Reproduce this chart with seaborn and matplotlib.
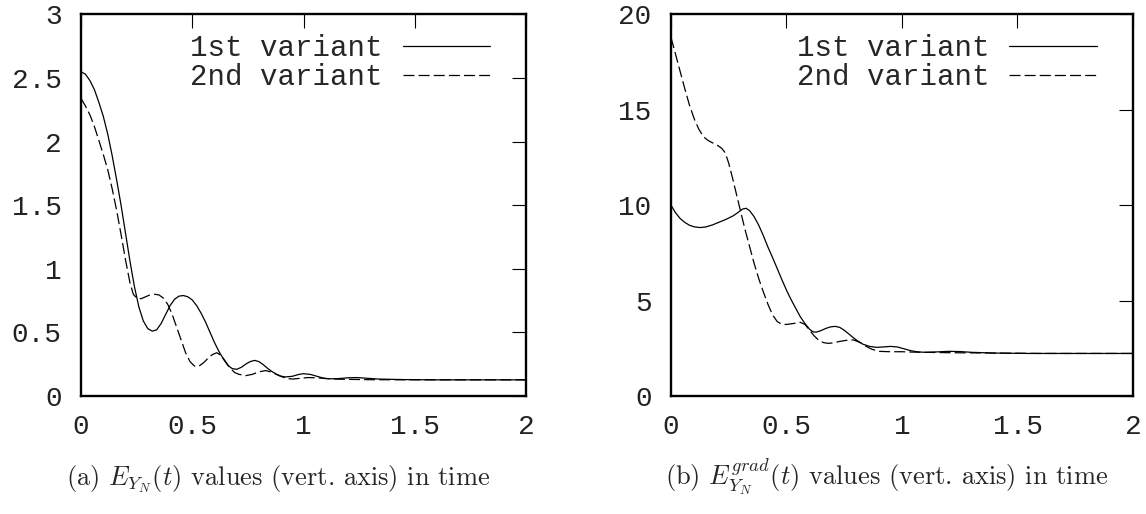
import matplotlib
matplotlib.use("Agg")
import matplotlib.pyplot as plt
import seaborn as sns
import pandas as pd

# ---------------- data ----------------
series_names = ["1st variant", "2nd variant"]

t_a1 = [0, 0.02, 0.04, 0.06, 0.08, 0.10, 0.12, 0.14, 0.16, 0.18, 0.20, 0.22, 0.24,
        0.26, 0.28, 0.30, 0.32, 0.34, 0.36, 0.38, 0.40, 0.42, 0.44, 0.46, 0.48,
        0.50, 0.52, 0.54, 0.56, 0.58, 0.60, 0.62, 0.64, 0.66, 0.68, 0.70, 0.72,
        0.74, 0.76, 0.78, 0.80, 0.82, 0.84, 0.86, 0.88, 0.90, 0.92, 0.95, 0.98,
        1.00, 1.03, 1.06, 1.09, 1.12, 1.16, 1.20, 1.24, 1.28, 1.34, 1.45, 1.60, 2.00]
e_a1 = [2.55, 2.53, 2.48, 2.41, 2.31, 2.20, 2.06, 1.89, 1.70, 1.50, 1.28, 1.06, 0.86,
        0.70, 0.59, 0.53, 0.51, 0.52, 0.57, 0.64, 0.71, 0.76, 0.785, 0.79, 0.78,
        0.755, 0.71, 0.65, 0.58, 0.50, 0.42, 0.35, 0.29, 0.24, 0.215, 0.21, 0.225,
        0.25, 0.27, 0.28, 0.27, 0.245, 0.215, 0.19, 0.17, 0.155, 0.15, 0.155, 0.17,
        0.175, 0.17, 0.155, 0.14, 0.135, 0.137, 0.143, 0.145, 0.14, 0.133, 0.129, 0.127, 0.127]

t_a2 = [0, 0.02, 0.04, 0.06, 0.08, 0.10, 0.12, 0.14, 0.16, 0.18, 0.20, 0.22, 0.235,
        0.25, 0.27, 0.29, 0.31, 0.33, 0.35, 0.37, 0.39, 0.41, 0.43, 0.45, 0.47,
        0.49, 0.51, 0.53, 0.55, 0.57, 0.59, 0.61, 0.63, 0.65, 0.67, 0.69, 0.71,
        0.74, 0.77, 0.80, 0.83, 0.86, 0.89, 0.92, 0.95, 0.98, 1.02, 1.06, 1.10,
        1.16, 1.30, 1.60, 2.00]
e_a2 = [2.34, 2.28, 2.21, 2.12, 2.01, 1.90, 1.78, 1.63, 1.46, 1.27, 1.07, 0.89, 0.80,
        0.77, 0.765, 0.78, 0.795, 0.80, 0.795, 0.77, 0.72, 0.64, 0.54, 0.44, 0.34,
        0.27, 0.235, 0.235, 0.26, 0.295, 0.325, 0.34, 0.32, 0.27, 0.22, 0.185, 0.17,
        0.16, 0.17, 0.19, 0.20, 0.185, 0.16, 0.14, 0.133, 0.138, 0.145, 0.143, 0.137,
        0.132, 0.128, 0.127, 0.127]

t_b1 = [0, 0.02, 0.04, 0.06, 0.08, 0.10, 0.126, 0.15, 0.18, 0.21, 0.24, 0.27, 0.29,
        0.31, 0.325, 0.34, 0.36, 0.38, 0.40, 0.42, 0.44, 0.46, 0.48, 0.50, 0.52,
        0.54, 0.56, 0.58, 0.60, 0.615, 0.63, 0.65, 0.67, 0.69, 0.71, 0.73, 0.75,
        0.77, 0.79, 0.81, 0.83, 0.86, 0.89, 0.92, 0.95, 0.98, 1.01, 1.04, 1.07,
        1.10, 1.15, 1.20, 1.25, 1.30, 1.40, 1.55, 1.80, 2.00]
e_b1 = [10.0, 9.6, 9.3, 9.1, 8.95, 8.87, 8.83, 8.86, 8.97, 9.12, 9.27, 9.45, 9.62,
        9.80, 9.84, 9.72, 9.40, 8.95, 8.40, 7.80, 7.25, 6.68, 6.10, 5.55, 5.05,
        4.60, 4.15, 3.80, 3.50, 3.36, 3.35, 3.43, 3.54, 3.62, 3.65, 3.60, 3.45,
        3.25, 3.05, 2.87, 2.72, 2.60, 2.55, 2.57, 2.60, 2.57, 2.47, 2.37, 2.31,
        2.29, 2.31, 2.34, 2.33, 2.29, 2.25, 2.23, 2.23, 2.23]

t_b2 = [0, 0.02, 0.04, 0.06, 0.08, 0.10, 0.12, 0.14, 0.16, 0.18, 0.20, 0.22, 0.235,
        0.25, 0.265, 0.28, 0.30, 0.32, 0.34, 0.36, 0.38, 0.40, 0.42, 0.44, 0.46,
        0.48, 0.50, 0.53, 0.56, 0.58, 0.60, 0.62, 0.64, 0.66, 0.68, 0.70, 0.73,
        0.76, 0.79, 0.82, 0.845, 0.87, 0.90, 0.95, 1.00, 1.05, 1.20, 1.40, 1.60, 2.00]
e_b2 = [18.8, 17.9, 17.0, 16.1, 15.25, 14.55, 14.0, 13.6, 13.4, 13.27, 13.15, 12.98, 12.75,
        12.2, 11.5, 10.75, 9.75, 8.75, 7.85, 6.95, 6.15, 5.45, 4.80, 4.25, 3.90,
        3.76, 3.75, 3.80, 3.86, 3.75, 3.45, 3.15, 2.92, 2.80, 2.76, 2.78, 2.86,
        2.92, 2.94, 2.80, 2.60, 2.45, 2.34, 2.32, 2.32, 2.30, 2.27, 2.25, 2.23, 2.23]

xticks = [0, 0.5, 1, 1.5, 2]
xtick_labels = ["0", "0.5", "1", "1.5", "2"]
yticks_a = [0, 0.5, 1, 1.5, 2, 2.5, 3]
ytick_labels_a = ["0", "0.5", "1", "1.5", "2", "2.5", "3"]
yticks_b = [0, 5, 10, 15, 20]
ytick_labels_b = ["0", "5", "10", "15", "20"]

caption_a = r"(a) $E_{Y_N}(t)$ values (vert. axis) in time"
caption_b = r"(b) $E^{grad}_{Y_N}(t)$ values (vert. axis) in time"


def long_df(t1, v1, t2, v2):
    return pd.concat([
        pd.DataFrame({"t": t1, "value": v1, "variant": series_names[0]}),
        pd.DataFrame({"t": t2, "value": v2, "variant": series_names[1]}),
    ], ignore_index=True)


df_a = long_df(t_a1, e_a1, t_a2, e_a2)
df_b = long_df(t_b1, e_b1, t_b2, e_b2)

# ---------------- style ----------------
sns.set_style("white")
plt.rcParams["font.family"] = ["Liberation Mono", "DejaVu Sans Mono"]
plt.rcParams["mathtext.fontset"] = "cm"

mono = "Liberation Mono"
fs_tick = 20
fs_leg = 21

fig = plt.figure(figsize=(11.46, 5.14), dpi=100)
ax_a = fig.add_axes([0.0707, 0.2296, 0.3883, 0.7422])
ax_b = fig.add_axes([0.5855, 0.2296, 0.4031, 0.7422])

dash_map = {series_names[0]: "", series_names[1]: (8.8, 3.3)}

for ax, df, yt, ytl, ymax in [(ax_a, df_a, yticks_a, ytick_labels_a, 3),
                               (ax_b, df_b, yticks_b, ytick_labels_b, 20)]:
    sns.lineplot(data=df, x="t", y="value", style="variant", dashes=dash_map,
                 color="black", lw=0.9, estimator=None, sort=False, ax=ax,
                 legend=True)
    ax.set_xlim(0, 2)
    ax.set_ylim(0, ymax)
    ax.set_xticks(xticks)
    ax.set_xticklabels(xtick_labels, fontfamily=mono, fontsize=fs_tick)
    ax.set_yticks(yt)
    ax.set_yticklabels(ytl, fontfamily=mono, fontsize=fs_tick)
    ax.set_xlabel("")
    ax.set_ylabel("")
    for s in ax.spines.values():
        s.set_visible(True)
        s.set_linewidth(1.7)
        s.set_color("black")
    ax.tick_params(direction="in", length=10, width=0.8, color="black",
                   top=True, right=True, labelcolor="#222222")
    ax.tick_params(axis="x", pad=13)
    ax.tick_params(axis="y", pad=14)
    handles, labels = ax.get_legend_handles_labels()
    anchor_x = 1 - 36 / (ax.get_position().width * 1146)
    leg = ax.legend(handles, labels, loc="upper right",
                    bbox_to_anchor=(anchor_x, 0.948), frameon=False,
                    markerfirst=False, handlelength=3.0, handletextpad=0.7,
                    labelspacing=0.03, borderpad=0, borderaxespad=0,
                    prop={"family": mono, "size": fs_leg})
    for line in leg.get_lines():
        line.set_linewidth(0.9)
        line.set_color("black")

fig.text(66 / 1146, 1 - 485 / 514, caption_a, ha="left", va="baseline",
         fontfamily="cmr10", fontsize=19)
fig.text(665 / 1146, 1 - 485 / 514, caption_b, ha="left", va="baseline",
         fontfamily="cmr10", fontsize=19)

fig.savefig("out.png", dpi=100)
